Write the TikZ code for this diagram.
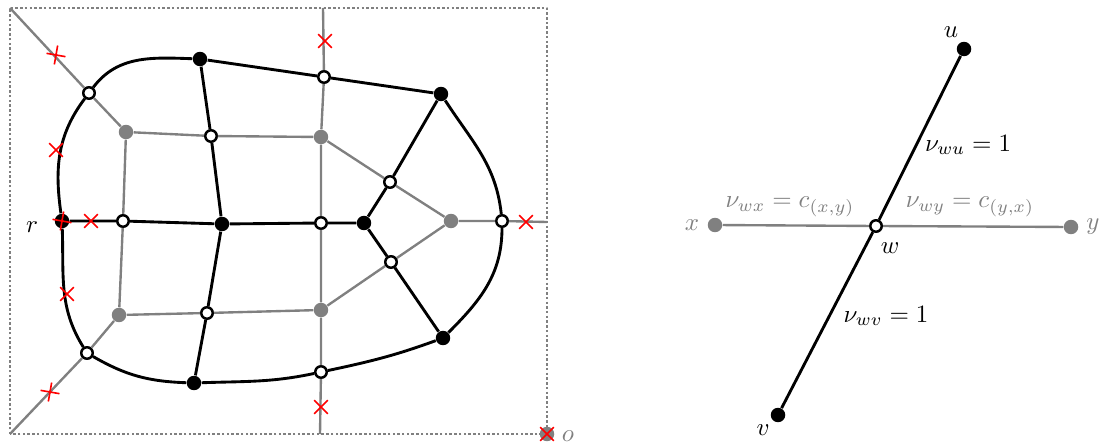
\documentclass[tikz,border=0pt]{standalone}
\usepackage{amsmath,amssymb}
\usepackage{xcolor}
\usepackage{tikz}
\usetikzlibrary{shapes.misc,positioning}

\tikzset{
  bvert/.style={circle,fill=black,inner sep=0pt,minimum size=5.8pt},
  gvert/.style={circle,fill=gray,inner sep=0pt,minimum size=5.8pt},
  wvert/.style={circle,draw=black,fill=white,line width=1pt,inner sep=0pt,minimum size=4.6pt},
  primal/.style={line width=1.15pt},
  dual/.style={gray,line width=0.95pt},
  cut/.style={cross out,draw=red,line width=0.65pt,inner sep=0pt,minimum size=4.8pt},
  glabel/.style={gray},
}

\begin{document}
\begin{tikzpicture}[x=0.01408cm,y=0.01408cm,line join=round]
  \useasboundingbox (0,0) rectangle (1101,445);
  % outer box
  \draw[gray,line width=1.1pt,dash pattern=on 1pt off 0.9pt] (10,11) rectangle (547,437);
  \coordinate (bTL) at (10,437);
  \coordinate (bBL) at (10,11);
  \coordinate (bT) at (323,437);
  \coordinate (bB) at (320,11);
  \coordinate (bR) at (547,223);
  % vertices
  \node[bvert] (r) at (62,224) {};
  \node[bvert] (B1) at (200,386) {};
  \node[bvert] (B2) at (441,351) {};
  \node[bvert] (B3) at (222,221) {};
  \node[bvert] (B4) at (364,222) {};
  \node[bvert] (B5) at (443,107) {};
  \node[bvert] (B6) at (194,62) {};
  \node[gvert] (G1) at (126,313) {};
  \node[gvert] (G2) at (321,308) {};
  \node[gvert] (G3) at (451,224) {};
  \node[gvert] (G4) at (119,130) {};
  \node[gvert] (G5) at (321,135) {};
  \node[gvert] (o) at (547,11) {};
  \node[wvert] (W1) at (89,352) {};
  \node[wvert] (W2) at (324,368) {};
  \node[wvert] (W3) at (211,309) {};
  \node[wvert] (W4) at (390,263) {};
  \node[wvert] (W5) at (123,224) {};
  \node[wvert] (W6) at (321,222) {};
  \node[wvert] (W7) at (502,224) {};
  \node[wvert] (W8) at (391,183) {};
  \node[wvert] (W9) at (207,132) {};
  \node[wvert] (W10) at (87,92) {};
  \node[wvert] (W11) at (321,73) {};
  % dual edges
  \draw[dual] (bTL) -- (W1) -- (G1);
  \draw[dual] (bBL) -- (W10) -- (G4);
  \draw[dual] (bT) -- (W2) -- (G2) -- (W6) -- (G5) -- (W11) -- (bB);
  \draw[dual] (G1) -- (W3) -- (G2);
  \draw[dual] (G1) -- (W5) -- (G4);
  \draw[dual] (G4) -- (W9) -- (G5);
  \draw[dual] (G2) -- (W4) -- (G3);
  \draw[dual] (G5) -- (W8) -- (G3);
  \draw[dual] (G3) -- (W7) -- (bR);
  % primal edges
  \draw[primal] (r) to[out=98,in=233] (W1);
  \draw[primal] (W1) to[out=53,in=178] (B1);
  \draw[primal] (B1) -- (W2) -- (B2);
  \draw[primal] (B2) to[out=-57,in=96] (W7);
  \draw[primal] (W7) to[out=-90,in=45] (B5);
  \draw[primal] (B5) to[out=200,in=12] (W11);
  \draw[primal] (W11) to[out=192,in=2] (B6);
  \draw[primal] (B6) to[out=178,in=-30] (W10);
  \draw[primal] (W10) to[out=122,in=-88] (r);
  \draw[primal] (B1) -- (W3) -- (B3);
  \draw[primal] (B3) -- (W9) -- (B6);
  \draw[primal] (r) -- (W5) -- (B3);
  \draw[primal] (B3) -- (W6) -- (B4);
  \draw[primal] (B4) -- (W4) -- (B2);
  \draw[primal] (B4) -- (W8) -- (B5);
  % cuts
  \node[cut,rotate=35] (c1) at (56,390) {};
  \node[cut] (c2) at (56,295) {};
  \node[cut,rotate=35] (c3) at (62,224) {};
  \node[cut] (c4) at (91,224) {};
  \node[cut] (c5) at (67,151) {};
  \node[cut,rotate=35] (c6) at (50,53) {};
  \node[cut] (c7) at (325,404) {};
  \node[cut] (c8) at (321,38) {};
  \node[cut] (c9) at (526,223) {};
  \node[cut] (c10) at (547,11) {};
  \node (rlab) at (32,218) {$r$};
  \node[glabel] (olab) at (568,9) {$o$};
  % local picture at w
  \node[bvert] (u) at (964,396) {};
  \node[bvert] (v) at (778,30) {};
  \node[gvert] (x) at (715,220) {};
  \node[gvert] (y) at (1071,218) {};
  \node[wvert] (w) at (876,219) {};
  \draw[dual] (x) -- (w) -- (y);
  \draw[primal] (u) -- (w) -- (v);
  \node (ulab) at (951,413) {$u$};
  \node (vlab) at (763,15) {$v$};
  \node (wlab) at (890,197) {$w$};
  \node[glabel] (xlab) at (692,220) {$x$};
  \node[glabel] (ylab) at (1093,218) {$y$};
  \node (nwu) at (968,300) {$\nu_{wu}=1$};
  \node (nwv) at (886,129) {$\nu_{wv}=1$};
  \node[glabel] (nwx) at (790,238) {$\nu_{wx}=c_{(x,y)}$};
  \node[glabel] (nwy) at (970,238) {$\nu_{wy}=c_{(y,x)}$};
\end{tikzpicture}
\end{document}
